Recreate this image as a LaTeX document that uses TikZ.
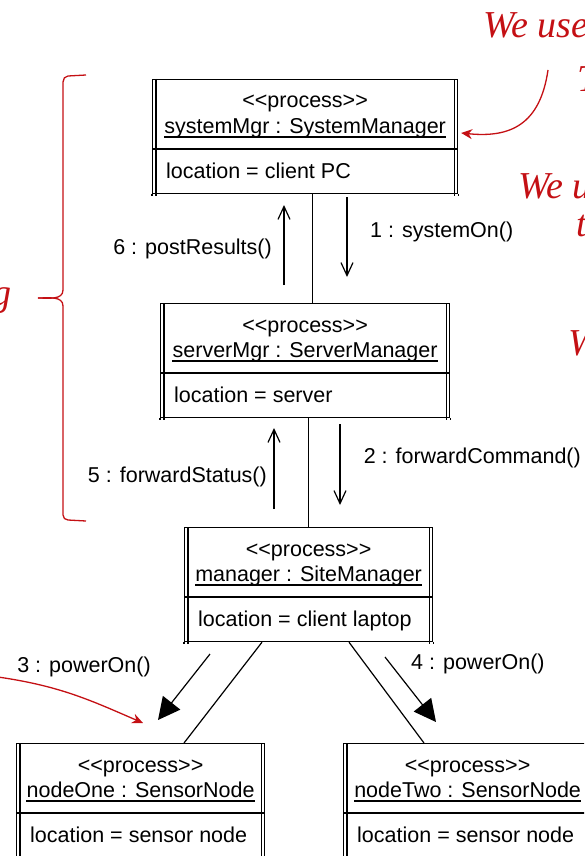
\documentclass[tikz,border=0pt]{standalone}
\usepackage{fontspec}
\newfontfamily\umlfont{Liberation Sans}
\newfontfamily\handfont{Liberation Serif}
\usetikzlibrary{arrows.meta}

\definecolor{inkred}{RGB}{196,16,20}

\tikzset{
	procbox/.style={draw,line width=1.2pt,rectangle,inner sep=0pt,minimum height=114pt},
	frame/.style={line width=1.2pt},
	umltext/.style={inner sep=0pt,font=\umlfont\fontsize{21.5}{25}\selectfont},
	link/.style={line width=1.2pt},
	msg/.style={line width=1.2pt,-{Straight Barb[length=13pt,width=12pt]}},
	call/.style={line width=1.2pt,-{Triangle[length=22pt,width=22pt]}},
	ink/.style={draw=inkred,line width=1.3pt},
	note/.style={inner sep=0pt,text=inkred,font=\handfont\itshape\fontsize{38}{42}\selectfont}
}

% box name, x, y, width, object, location
\newcommand{\procbox}[6]{
	\node[procbox,minimum width=#4pt,anchor=north west] (#1) at (#2,#3) {};
	\draw[frame] ([xshift=4pt]#1.north west) -- ([xshift=4pt,yshift=-2pt]#1.south west);
	\draw[frame] ([xshift=-4pt]#1.north east) -- ([xshift=-4pt,yshift=-2pt]#1.south east);
	\draw[frame] (#1.south west) -- ([yshift=-2pt]#1.south west);
	\draw[frame] (#1.south east) -- ([yshift=-2pt]#1.south east);
	\draw[frame] ([yshift=-70pt]#1.north west) -- ([yshift=-70pt]#1.north east);
	\node[umltext,anchor=base] (#1-st) at ([yshift=-29pt]#1.north) {<<process>>};
	\node[umltext,anchor=base] (#1-id) at ([yshift=-54pt]#1.north) {#5};
	\draw[frame] ([yshift=-4pt]#1-id.base west) -- ([yshift=-4pt]#1-id.base east);
	\node[umltext,anchor=base west] (#1-loc) at ([xshift=14pt,yshift=16pt]#1.south west) {location = #6};
}

\begin{document}
\begin{tikzpicture}[x=1pt,y=-1pt]
\clip (0,0) rectangle (584,856);

\procbox{sys}{152}{79}{305}{systemMgr : SystemManager}{client PC}
\procbox{srv}{160}{303}{289}{serverMgr : ServerManager}{server}
\procbox{mgr}{184}{527}{248}{manager : SiteManager}{client laptop}
\procbox{one}{16}{743}{248}{nodeOne : SensorNode}{sensor node}
\procbox{two}{343}{743}{248}{nodeTwo : SensorNode}{sensor node}

% links
\draw[link] ([xshift=7pt]sys.south) -- ([xshift=7pt]srv.north);
\draw[link] (srv.south -| mgr.north) -- (mgr.north);
\draw[link] ([xshift=78pt]mgr.south west) -- ([xshift=168pt]one.north west);
\draw[link] ([xshift=165pt]mgr.south west) -- ([xshift=81pt]two.north west);

% messages
\coordinate (m1a) at (347,197);
\coordinate (m1b) at (347,277);
\coordinate (m6a) at (284,285);
\coordinate (m6b) at (284,205);
\coordinate (m2a) at (340,424);
\coordinate (m2b) at (340,505);
\coordinate (m5a) at (274,509);
\coordinate (m5b) at (274,428);
\coordinate (m3a) at (210,654);
\coordinate (m3b) at (158,720);
\coordinate (m4a) at (385,657);
\coordinate (m4b) at (436,722);

\draw[msg] (m1a) -- (m1b);
\draw[msg] (m6a) -- (m6b);
\draw[msg] (m2a) -- (m2b);
\draw[msg] (m5a) -- (m5b);
\draw[call] (m3a) -- (m3b);
\draw[call] (m4a) -- (m4b);

\node[umltext,anchor=west] (l1) at (370,232) {1 : systemOn()};
\node[umltext,anchor=east] (l6) at (272,249) {6 : postResults()};
\node[umltext,anchor=east] (l2) at (581,458) {2 : forwardCommand()};
\node[umltext,anchor=east] (l5) at (267,477) {5 : forwardStatus()};
\node[umltext] (l3) at (84,667) {3 : powerOn()};
\node[umltext,anchor=west] (l4) at (411,664) {4 : powerOn()};

% annotations
\draw[ink] (86,75) -- (68,76) to[out=180,in=90] (63,82) -- (63,290)
	to[out=-90,in=0] (38,298);
\draw[ink] (38,298) to[out=0,in=90] (63,306) -- (63,515)
	to[out=-90,in=180] (68,520) -- (86,521);
\coordinate (n1) at (548,70);
\coordinate (n3) at (-2,677);
\draw[ink,-{Stealth[length=11pt,width=10pt]}] (n1) .. controls (540,125) and (510,138) .. ([xshift=3pt]sys.east |- sys-id.base);
\draw[ink,-{Stealth[length=11pt,width=10pt]}] (n3) .. controls (60,686) and (90,700) .. (143,723);
\node[note,anchor=base west] (t1) at (483,38) {We use};
\node[note,anchor=base west] (t2) at (518,198) {We u};
\node[note,anchor=base west] (t3) at (576,236) {t};
\node[note,anchor=base west] (t4) at (568,355) {W};
\node[note,anchor=base west] (t5) at (577,92) {T};
\node[note,anchor=base east] (t6) at (12,305) {g};
\end{tikzpicture}
\end{document}
